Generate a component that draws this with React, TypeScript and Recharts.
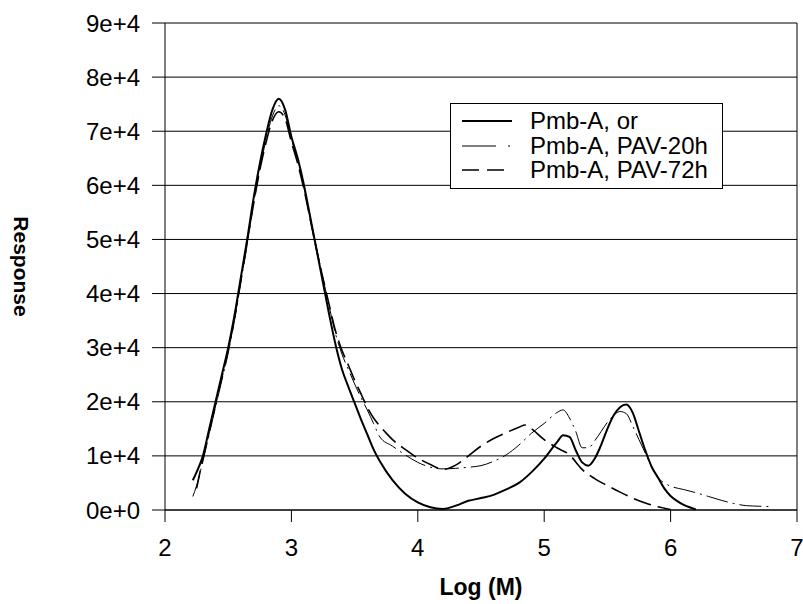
import React from "react";
import {
  LineChart,
  Line,
  XAxis,
  YAxis,
  CartesianGrid,
  ReferenceLine,
} from "recharts";

// Pmb-A, original
const orLogM = [
  2.22, 2.25, 2.3, 2.35, 2.4, 2.45, 2.5, 2.55, 2.6, 2.65, 2.7, 2.75, 2.8, 2.85,
  2.9, 2.95, 3.0, 3.05, 3.1, 3.15, 3.2, 3.25, 3.3, 3.35, 3.4, 3.45, 3.5, 3.55,
  3.6, 3.65, 3.7, 3.8, 3.9, 4.0, 4.1, 4.2, 4.3, 4.4, 4.5, 4.6, 4.7, 4.8, 4.9,
  5.0, 5.1, 5.15, 5.2, 5.25, 5.3, 5.35, 5.4, 5.45, 5.5, 5.55, 5.6, 5.65, 5.7,
  5.75, 5.8, 5.85, 5.9, 5.95, 6.0, 6.05, 6.1, 6.15, 6.2,
];
const orResp = [
  5500, 7000, 10000, 15000, 20000, 25000, 30000, 36000, 43000, 50000, 57500,
  64000, 69500, 74000, 76000, 74000, 69000, 65000, 60000, 54000, 48000, 42000,
  36000, 30500, 26000, 22800, 19800, 16800, 14000, 11200, 9000, 5500, 3000,
  1400, 500, 200, 800, 1700, 2200, 2800, 3800, 5000, 7000, 9500, 12500, 13800,
  13500, 11000, 8800, 8200, 9500, 12000, 15000, 17500, 19000, 19500, 18000,
  14500, 11000, 8000, 6000, 4000, 2600, 1700, 1000, 500, 100,
];

// Pmb-A, PAV-20h
const pav20LogM = [
  2.22, 2.25, 2.3, 2.35, 2.4, 2.45, 2.5, 2.55, 2.6, 2.65, 2.7, 2.75, 2.8, 2.85,
  2.9, 2.95, 3.0, 3.05, 3.1, 3.15, 3.2, 3.25, 3.3, 3.35, 3.4, 3.45, 3.5, 3.55,
  3.6, 3.65, 3.7, 3.8, 3.9, 4.0, 4.1, 4.2, 4.3, 4.4, 4.5, 4.6, 4.7, 4.8, 4.9,
  5.0, 5.1, 5.15, 5.2, 5.25, 5.3, 5.35, 5.4, 5.45, 5.5, 5.55, 5.6, 5.65, 5.7,
  5.75, 5.8, 5.85, 5.9, 5.95, 6.0, 6.1, 6.2, 6.3, 6.4, 6.5, 6.6, 6.7, 6.8,
];
const pav20Resp = [
  2500, 4500, 9000, 14000, 19000, 24000, 29000, 35000, 42000, 49000, 56500,
  63000, 68500, 72800, 74700, 73000, 68500, 64500, 59500, 53800, 48200, 42800,
  37500, 32500, 28800, 26000, 23300, 20800, 18500, 16000, 13500, 11800, 10200,
  8800, 7900, 7600, 7700, 7900, 8200, 9000, 10200, 12000, 14200, 16000, 18000,
  18500, 17000, 14500, 11500, 11500, 12800, 14500, 16200, 17500, 18200, 17800,
  15500, 13000, 10500, 8000, 6000, 5000, 4400, 3800, 3200, 2500, 1800, 1200,
  800, 700, 600,
];

// Pmb-A, PAV-72h
const pav72LogM = [
  2.25, 2.3, 2.35, 2.4, 2.45, 2.5, 2.55, 2.6, 2.65, 2.7, 2.75, 2.8, 2.85, 2.9,
  2.95, 3.0, 3.05, 3.1, 3.15, 3.2, 3.25, 3.3, 3.35, 3.4, 3.45, 3.5, 3.55, 3.6,
  3.65, 3.7, 3.75, 3.8, 3.9, 4.0, 4.1, 4.2, 4.3, 4.4, 4.5, 4.6, 4.7, 4.8, 4.85,
  4.9, 5.0, 5.1, 5.2, 5.3, 5.4, 5.5, 5.6, 5.7, 5.8, 5.9, 6.0,
];
const pav72Resp = [
  4000, 9500, 14500, 19500, 24500, 29500, 35500, 42500, 49500, 56500, 62800,
  68000, 72000, 73600, 72300, 68000, 64000, 59200, 53600, 48000, 42800, 37800,
  33000, 29500, 26800, 24000, 21500, 19000, 17000, 15500, 14200, 13000, 11200,
  9600, 8400, 7500, 8300, 10000, 11800, 13200, 14300, 15300, 15700, 15000,
  13000, 11500, 10200, 7500, 5800, 4500, 3300, 2200, 1300, 600, 100,
];

const yTicks = [0, 10000, 20000, 30000, 40000, 50000, 60000, 70000, 80000, 90000];
const xTicks = [2, 3, 4, 5, 6, 7];

const zip = (xs: number[], ys: number[]) =>
  xs.map((x, i) => ({ logM: x, response: ys[i] }));

const series = [
  {
    name: "Pmb-A, or",
    data: zip(orLogM, orResp),
    width: 2,
    dash: undefined as string | undefined,
    legendDash: undefined as string | undefined,
  },
  {
    name: "Pmb-A, PAV-20h",
    data: zip(pav20LogM, pav20Resp),
    width: 1,
    dash: "22 5 2 5",
    legendDash: "34 12 2 10",
  },
  {
    name: "Pmb-A, PAV-72h",
    data: zip(pav72LogM, pav72Resp),
    width: 1.6,
    dash: "18 7",
    legendDash: "17 8",
  },
];

const font = "'Liberation Sans', Arial, sans-serif";

const fmtY = (v: number) => (v === 0 ? "0e+0" : `${v / 10000}e+4`);

function LegendBox() {
  return (
    <div
      style={{
        position: "absolute",
        left: 450,
        top: 103,
        width: 273,
        height: 86,
        border: "1px solid #000",
        background: "#fff",
        fontFamily: font,
        fontSize: 24,
        color: "#000",
        boxSizing: "border-box",
        paddingTop: 5,
      }}
    >
      {series.map((s) => (
        <div
          key={s.name}
          style={{ display: "flex", alignItems: "center", height: 24.5 }}
        >
          <svg width={68} height={10} style={{ marginLeft: 11 }}>
            <line
              x1={0}
              y1={5}
              x2={50}
              y2={5}
              stroke="#000"
              strokeWidth={s.width}
              strokeDasharray={s.legendDash}
            />
          </svg>
          <span style={{ lineHeight: "24px" }}>{s.name}</span>
        </div>
      ))}
    </div>
  );
}

export default function App() {
  return (
    <div
      style={{
        position: "absolute",
        left: 0,
        top: 0,
        width: 803,
        height: 604,
        background: "#fff",
      }}
    >
      <LineChart
        width={803}
        height={604}
        margin={{ top: 23, right: 6, left: 0, bottom: 0 }}
      >
        <CartesianGrid vertical={false} stroke="#000" strokeWidth={1} />
        <XAxis
          dataKey="logM"
          type="number"
          domain={[2, 7]}
          ticks={xTicks}
          allowDuplicatedCategory={false}
          height={94}
          tickSize={12}
          tickMargin={17}
          stroke="#000"
          tick={{ fill: "#000", fontSize: 24, fontFamily: font }}
          label={{
            value: "Log (M)",
            position: "insideBottom",
            offset: 9,
            fill: "#000",
            fontSize: 23,
            fontWeight: "bold",
            fontFamily: font,
          }}
        />
        <YAxis
          type="number"
          domain={[0, 90000]}
          ticks={yTicks}
          width={165}
          tickSize={13}
          tickMargin={12}
          stroke="#000"
          tickFormatter={fmtY}
          tick={{ fill: "#000", fontSize: 24, fontFamily: font }}
          label={{
            content: (props: any) => {
              const vb = props.viewBox;
              const cx = vb.x + 21;
              const cy = vb.y + vb.height / 2;
              return (
                <text
                  x={cx}
                  y={cy}
                  transform={`rotate(90 ${cx} ${cy})`}
                  textAnchor="middle"
                  dominantBaseline="central"
                  fill="#000"
                  fontSize={21}
                  fontWeight="bold"
                  fontFamily={font}
                >
                  Response
                </text>
              );
            },
          }}
        />
        <ReferenceLine x={7} stroke="#000" strokeWidth={1} />
        {series.map((s) => (
          <Line
            key={s.name}
            data={s.data}
            dataKey="response"
            name={s.name}
            type="monotone"
            stroke="#000"
            strokeWidth={s.width}
            strokeDasharray={s.dash}
            dot={false}
            activeDot={false}
            isAnimationActive={false}
          />
        ))}
      </LineChart>
      <LegendBox />
    </div>
  );
}
